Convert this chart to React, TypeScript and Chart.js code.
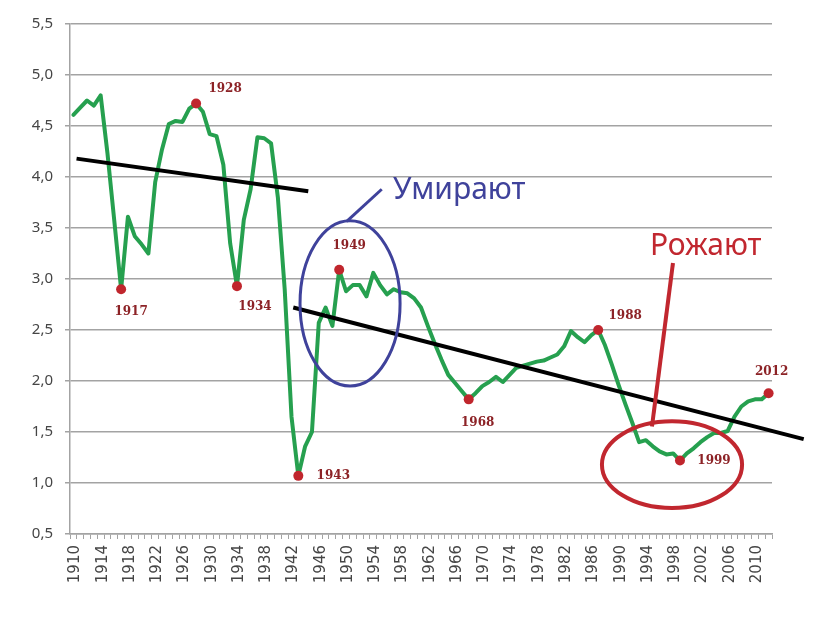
import React, { useEffect, useRef } from 'react';
import { Chart, registerables } from 'chart.js';

Chart.register(...registerables);

// ---- data ----
const firstYear = 1910;
const years: string[] = Array.from({ length: 103 }, (_, i) => String(firstYear + i));

const fertility: number[] = [
  4.61, 4.68, 4.75, 4.70, 4.80, 4.23, 3.57, 2.90, 3.61, 3.42, // 1910-1919
  3.34, 3.25, 3.95, 4.27, 4.52, 4.55, 4.54, 4.67, 4.72, 4.64, // 1920-1929
  4.42, 4.40, 4.12, 3.35, 2.93, 3.58, 3.88, 4.39, 4.38, 4.33, // 1930-1939
  3.80, 2.90, 1.65, 1.07, 1.36, 1.50, 2.57, 2.72, 2.54, 3.09, // 1940-1949
  2.88, 2.94, 2.94, 2.83, 3.06, 2.94, 2.85, 2.90, 2.87, 2.86, // 1950-1959
  2.81, 2.72, 2.54, 2.37, 2.21, 2.06, 1.98, 1.90, 1.82, 1.88, // 1960-1969
  1.95, 1.99, 2.04, 1.99, 2.06, 2.13, 2.15, 2.17, 2.19, 2.20, // 1970-1979
  2.23, 2.26, 2.34, 2.49, 2.43, 2.38, 2.45, 2.50, 2.35, 2.16, // 1980-1989
  1.96, 1.77, 1.59, 1.40, 1.42, 1.36, 1.31, 1.28, 1.29, 1.22, // 1990-1999
  1.29, 1.34, 1.40, 1.45, 1.49, 1.49, 1.51, 1.65, 1.75, 1.80, // 2000-2009
  1.82, 1.82, 1.88, // 2010-2012
];

const markedYears: number[] = [1917, 1928, 1934, 1943, 1949, 1968, 1987, 1999, 2012];
const markedLabels: string[] = ['1917', '1928', '1934', '1943', '1949', '1968', '1988', '1999', '2012'];

const yTicks: number[] = [0.5, 1.0, 1.5, 2.0, 2.5, 3.0, 3.5, 4.0, 4.5, 5.0, 5.5];
const xLabelEvery = 4;

// hand-drawn annotations, in (year, value) units
const trendLineA: [number, number][] = [[1910.46, 4.18], [1944.46, 3.86]];
const trendLineB: [number, number][] = [[1942.26, 2.72], [2017.15, 1.43]];
const blueEllipse: number[] = [1950.59, 2.76, 7.34, 0.81]; // cx, cy, rx(years), ry(value)
const blueConnector: [number, number][] = [[1950.1, 3.565], [1955.24, 3.88]];
const blueText = { text: 'Умирают', at: [1956.9, 3.787] as [number, number] };
const redEllipse: number[] = [1997.83, 1.18, 10.28, 0.425];
const redConnector: [number, number][] = [[1994.89, 1.555], [1997.97, 3.157]];
const redText = { text: 'Рожают', at: [1994.6, 3.24] as [number, number] };

// ---- styles ----
const labelOffsets: [number, number][] = [
  [10, 23], [29, -15], [18, 21], [35, 0], [10, -24], [9, 24], [27, -14], [34, 0], [3, -21],
];
const GREEN = '#26a04f';
const MARK = '#c0262d';
const MARK_TEXT = '#8c2226';
const GRID = '#a3a3a3';
const TICK_TEXT = '#454545';
const BLUE = '#3f429b';
const RED = '#c1272f';

const overlayPlugin = {
  id: 'overlay',
  afterDatasetsDraw(chart: any) {
    const { ctx } = chart;
    const xs = chart.scales.x;
    const ys = chart.scales.y;
    const px = (yr: number) => xs.getPixelForValue(yr - firstYear);
    const py = (v: number) => ys.getPixelForValue(v);
    ctx.save();

    // rotated x-axis labels
    ctx.fillStyle = TICK_TEXT;
    ctx.font = '15px "DejaVu Sans", sans-serif';
    ctx.textAlign = 'right';
    ctx.textBaseline = 'middle';
    const labelTop = xs.top + 11;
    years.forEach((lbl, i) => {
      if (i % xLabelEvery !== 0) return;
      ctx.save();
      ctx.translate(xs.getPixelForValue(i) + 2, labelTop);
      ctx.rotate(-Math.PI / 2);
      ctx.fillText(lbl, 0, 0);
      ctx.restore();
    });

    // trend lines
    ctx.strokeStyle = '#000';
    ctx.lineWidth = 4;
    ctx.lineCap = 'butt';
    [trendLineA, trendLineB].forEach((ln) => {
      ctx.beginPath();
      ctx.moveTo(px(ln[0][0]), py(ln[0][1]));
      ctx.lineTo(px(ln[1][0]), py(ln[1][1]));
      ctx.stroke();
    });

    // marker labels
    ctx.fillStyle = MARK_TEXT;
    ctx.font = 'bold 12px "DejaVu Serif", serif';
    ctx.textAlign = 'center';
    ctx.textBaseline = 'middle';
    markedYears.forEach((yr, i) => {
      const v = fertility[yr - firstYear];
      ctx.fillText(markedLabels[i], px(yr) + labelOffsets[i][0], py(v) + labelOffsets[i][1]);
    });

    const ellipse = (e: number[], color: string, w: number) => {
      const cx = px(e[0]);
      const cy = py(e[1]);
      const rx = Math.abs(px(e[0] + e[2]) - cx);
      const ry = Math.abs(py(e[1] + e[3]) - cy);
      ctx.strokeStyle = color;
      ctx.lineWidth = w;
      ctx.beginPath();
      ctx.ellipse(cx, cy, rx, ry, 0, 0, Math.PI * 2);
      ctx.stroke();
    };
    const seg = (s: [number, number][], color: string, w: number) => {
      ctx.strokeStyle = color;
      ctx.lineWidth = w;
      ctx.beginPath();
      ctx.moveTo(px(s[0][0]), py(s[0][1]));
      ctx.lineTo(px(s[1][0]), py(s[1][1]));
      ctx.stroke();
    };

    ellipse(blueEllipse, BLUE, 3);
    seg(blueConnector, BLUE, 3);
    ellipse(redEllipse, RED, 4);
    seg(redConnector, RED, 4);

    ctx.textAlign = 'left';
    ctx.textBaseline = 'alphabetic';
    ctx.font = '30px "Noto Sans", sans-serif';
    ctx.fillStyle = BLUE;
    ctx.fillText(blueText.text, px(blueText.at[0]), py(blueText.at[1]));
    ctx.fillStyle = RED;
    ctx.fillText(redText.text, px(redText.at[0]), py(redText.at[1]));

    ctx.restore();
  },
};

export default function App() {
  const ref = useRef<HTMLCanvasElement | null>(null);

  useEffect(() => {
    if (!ref.current) return;
    const markerData = years.map((y, i) =>
      markedYears.includes(firstYear + i) ? fertility[i] : null
    );
    const chart = new Chart(ref.current, {
      type: 'line',
      data: {
        labels: years,
        datasets: [
          {
            data: markerData,
            showLine: false,
            pointRadius: 5,
            pointBackgroundColor: MARK,
            pointBorderColor: MARK,
            pointBorderWidth: 0,
          },
          {
            data: fertility,
            borderColor: GREEN,
            borderWidth: 4,
            pointRadius: 0,
            tension: 0,
            borderJoinStyle: 'round',
            borderCapStyle: 'round',
            fill: false,
          },
        ],
      },
      options: {
        animation: false,
        responsive: false,
        devicePixelRatio: 1,
        layout: { padding: { left: 0, top: 24, right: 41, bottom: 0 } },
        plugins: {
          legend: { display: false },
          tooltip: { enabled: false },
        },
        scales: {
          x: {
            type: 'category',
            offset: true,
            grid: {
              display: true,
              drawOnChartArea: false,
              drawTicks: true,
              tickLength: 5,
              color: GRID,
              lineWidth: 1,
              offset: true,
            },
            border: { display: true, color: GRID, width: 1.5 },
            ticks: { display: false, autoSkip: false },
            afterFit: (s: any) => {
              s.height = 88;
            },
          },
          y: {
            min: 0.5,
            max: 5.5,
            afterBuildTicks: (s: any) => {
              s.ticks = yTicks.map((v) => ({ value: v }));
            },
            grid: {
              color: GRID,
              lineWidth: 1.5,
              drawTicks: true,
              tickLength: 5,
            },
            border: { display: true, color: GRID, width: 1.5 },
            ticks: {
              padding: 12,
              color: TICK_TEXT,
              font: { family: '"Noto Sans", sans-serif', size: 15 },
              callback: (v: any) => Number(v).toFixed(1).replace('.', ','),
            },
            afterFit: (s: any) => {
              s.width = 70;
            },
          },
        },
      },
      plugins: [overlayPlugin],
    });
    return () => chart.destroy();
  }, []);

  return (
    <div style={{ position: 'fixed', left: 0, top: 0, width: 813, height: 622, background: '#fff' }}>
      <canvas ref={ref} width={813} height={622} style={{ display: 'block' }} />
    </div>
  );
}
